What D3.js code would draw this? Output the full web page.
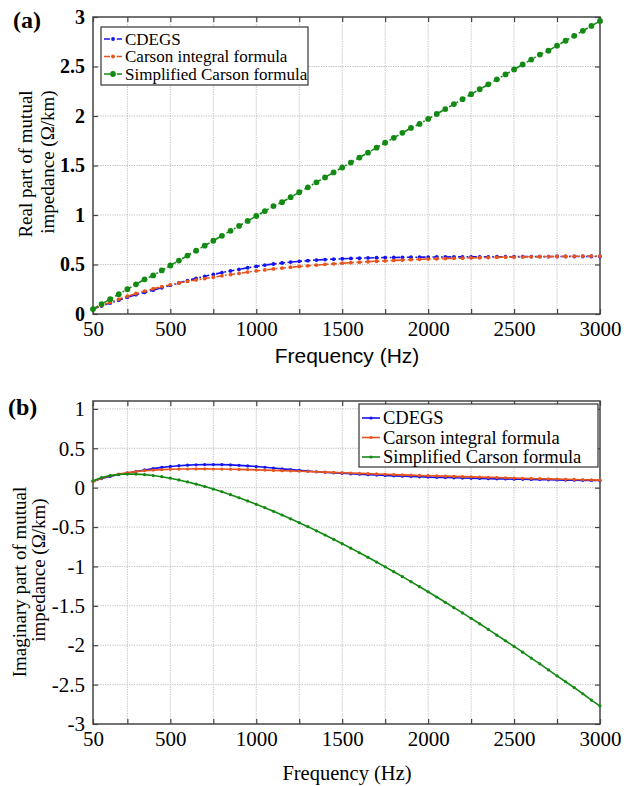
<!DOCTYPE html>
<html>
<head>
<meta charset="utf-8">
<script src="https://cdn.jsdelivr.net/npm/d3@7"></script>
<style>
  body { margin: 0; background: #fff; }
  svg { display: block; }
  text { font-family: "Liberation Serif", "Times New Roman", serif; fill: #000; }
</style>
</head>
<body>
<svg id="chart" width="635" height="786"></svg>
<script>
// frequency points (Hz)
const freq = [50, 100, 150, 200, 250, 300, 350, 400, 450, 500, 550, 600, 650, 700, 750, 800, 850, 900, 950, 1000,
  1050, 1100, 1150, 1200, 1250, 1300, 1350, 1400, 1450, 1500, 1550, 1600, 1650, 1700, 1750, 1800, 1850, 1900, 1950, 2000,
  2050, 2100, 2150, 2200, 2250, 2300, 2350, 2400, 2450, 2500, 2550, 2600, 2650, 2700, 2750, 2800, 2850, 2900, 2950, 3000]

// (a) real part, ohm/km
const realCdegs = [0.050, 0.080, 0.110, 0.140, 0.170, 0.195, 0.218, 0.241, 0.265, 0.290, 0.314, 0.338, 0.360, 0.381, 0.400, 0.418, 0.435, 0.451, 0.467, 0.481,
  0.494, 0.505, 0.515, 0.524, 0.532, 0.539, 0.545, 0.550, 0.554, 0.558, 0.561, 0.564, 0.566, 0.568, 0.570, 0.571, 0.572, 0.573, 0.574, 0.575,
  0.576, 0.576, 0.577, 0.577, 0.578, 0.578, 0.578, 0.579, 0.579, 0.579, 0.580, 0.580, 0.580, 0.580, 0.581, 0.581, 0.581, 0.581, 0.581, 0.581]
const realCarson = [0.050, 0.085, 0.118, 0.150, 0.180, 0.207, 0.232, 0.255, 0.276, 0.295, 0.313, 0.329, 0.344, 0.358, 0.371, 0.386, 0.398, 0.410, 0.423, 0.435,
  0.445, 0.455, 0.464, 0.472, 0.480, 0.487, 0.494, 0.501, 0.507, 0.513, 0.518, 0.523, 0.528, 0.533, 0.537, 0.541, 0.545, 0.549, 0.552, 0.555,
  0.558, 0.560, 0.562, 0.564, 0.566, 0.568, 0.570, 0.572, 0.574, 0.575, 0.577, 0.578, 0.579, 0.580, 0.581, 0.582, 0.583, 0.584, 0.585, 0.585]
const realSimple = [0.05, 0.10, 0.15, 0.20, 0.25, 0.30, 0.35, 0.39, 0.44, 0.49, 0.54, 0.59, 0.64, 0.69, 0.74, 0.79, 0.84, 0.89, 0.94, 0.99,
  1.04, 1.09, 1.13, 1.18, 1.23, 1.28, 1.33, 1.38, 1.43, 1.48, 1.53, 1.58, 1.63, 1.68, 1.73, 1.78, 1.83, 1.88, 1.92, 1.97,
  2.02, 2.07, 2.12, 2.17, 2.22, 2.27, 2.32, 2.37, 2.42, 2.47, 2.52, 2.57, 2.62, 2.66, 2.71, 2.76, 2.81, 2.86, 2.91, 2.96]

// (b) imaginary part, ohm/km
const imagCdegs = [0.077, 0.115, 0.143, 0.166, 0.186, 0.206, 0.225, 0.242, 0.257, 0.269, 0.279, 0.286, 0.290, 0.293, 0.294, 0.292, 0.289, 0.283, 0.276, 0.268,
  0.259, 0.249, 0.239, 0.229, 0.219, 0.210, 0.202, 0.195, 0.188, 0.182, 0.176, 0.170, 0.165, 0.160, 0.155, 0.150, 0.146, 0.142, 0.138, 0.134,
  0.131, 0.128, 0.125, 0.122, 0.119, 0.117, 0.114, 0.112, 0.110, 0.108, 0.106, 0.104, 0.102, 0.100, 0.098, 0.096, 0.095, 0.093, 0.092, 0.090]
const imagCarson = [0.077, 0.120, 0.150, 0.172, 0.190, 0.204, 0.215, 0.223, 0.229, 0.233, 0.236, 0.237, 0.238, 0.238, 0.237, 0.236, 0.234, 0.232, 0.229, 0.226,
  0.223, 0.219, 0.216, 0.212, 0.208, 0.205, 0.201, 0.197, 0.194, 0.190, 0.186, 0.182, 0.178, 0.174, 0.170, 0.166, 0.162, 0.159, 0.155, 0.152,
  0.149, 0.146, 0.143, 0.140, 0.137, 0.134, 0.131, 0.128, 0.125, 0.122, 0.119, 0.117, 0.114, 0.111, 0.109, 0.106, 0.104, 0.101, 0.099, 0.096]
const imagSimple = [0.087, 0.129, 0.153, 0.167, 0.173, 0.172, 0.165, 0.154, 0.139, 0.120, 0.098, 0.073, 0.045, 0.015, -0.018, -0.052, -0.089, -0.128, -0.168, -0.211,
  -0.254, -0.300, -0.347, -0.395, -0.445, -0.495, -0.548, -0.601, -0.656, -0.711, -0.768, -0.826, -0.884, -0.944, -1.005, -1.067, -1.130, -1.193, -1.257, -1.321,
  -1.388, -1.455, -1.523, -1.590, -1.659, -1.728, -1.799, -1.872, -1.943, -2.015, -2.088, -2.163, -2.236, -2.313, -2.388, -2.464, -2.538, -2.616, -2.696, -2.773]

const seriesNames = ['CDEGS', 'Carson integral formula', 'Simplified Carson formula']
const seriesColors = ['#1414f0', '#e8541c', '#138a13']

const xTicks = [50, 250, 500, 750, 1000, 1250, 1500, 1750, 2000, 2250, 2500, 2750, 3000]
const realTicks = [0, 0.5, 1, 1.5, 2, 2.5, 3]
const imagTicks = [-3, -2.5, -2, -1.5, -1, -0.5, 0, 0.5, 1]

const SERIF = '"Liberation Serif", "Times New Roman", serif'
const SANS = '"Liberation Sans", Arial, sans-serif'

const svg = d3.select('#chart')

function drawPanel (opts) {
  const g = svg.append('g')
  const x = d3.scaleLinear().domain([50, 3000]).range([93, 600])
  const y = d3.scaleLinear().domain(opts.yDomain).range([opts.bottom, opts.top])
  const xLab = d => (d === 50 || d % 500 === 0) ? String(d) : ''

  // dotted grid
  g.selectAll('.vgrid').data(xTicks.filter(d => d > 50 && d < 3000)).enter()
    .append('line')
    .attr('x1', d => x(d)).attr('x2', d => x(d))
    .attr('y1', opts.top).attr('y2', opts.bottom)
    .attr('stroke', '#b5b5b5').attr('stroke-width', 0.9).attr('stroke-dasharray', '1.2,1.2')
  g.selectAll('.hgrid').data(opts.yTicks.filter(d => d > opts.yDomain[0] && d < opts.yDomain[1])).enter()
    .append('line')
    .attr('x1', 93).attr('x2', 600)
    .attr('y1', d => y(d)).attr('y2', d => y(d))
    .attr('stroke', '#b5b5b5').attr('stroke-width', 0.9).attr('stroke-dasharray', '1.2,1.2')

  // axes with inward ticks
  const xa = g.append('g').attr('transform', `translate(0,${opts.bottom})`)
    .call(d3.axisBottom(x).tickValues(xTicks).tickFormat(xLab).tickSizeInner(-5).tickSizeOuter(0).tickPadding(6))
  xa.selectAll('text').style('font-size', '21px').style('font-family', SERIF).attr('dy', '0.75em')
  g.append('g').attr('transform', `translate(0,${opts.top})`)
    .call(d3.axisTop(x).tickValues(xTicks).tickFormat('').tickSizeInner(-5).tickSizeOuter(0))
  const ya = g.append('g').attr('transform', 'translate(93,0)')
    .call(d3.axisLeft(y).tickValues(opts.yTicks).tickFormat(d => String(d)).tickSizeInner(-5).tickSizeOuter(0).tickPadding(8))
  ya.selectAll('text')
    .style('font-size', opts.boldY ? '20px' : '21px')
    .style('font-family', SERIF)
    .style('font-weight', opts.boldY ? 'bold' : 'normal')
  g.append('g').attr('transform', 'translate(600,0)')
    .call(d3.axisRight(y).tickValues(opts.yTicks).tickFormat('').tickSizeInner(-5).tickSizeOuter(0))
  g.selectAll('.domain').remove()
  g.selectAll('.tick line').attr('stroke', '#444').attr('stroke-width', 1.2)

  // frame
  g.append('rect')
    .attr('x', 93).attr('y', opts.top)
    .attr('width', 507).attr('height', opts.bottom - opts.top)
    .attr('fill', 'none').attr('stroke', '#444').attr('stroke-width', 1.5)

  // series
  const line = d3.line().x(d => x(d[0])).y(d => y(d[1]))
  opts.series.forEach((vals, i) => {
    const pts = freq.map((f, k) => [f, vals[k]])
    g.append('path').datum(pts)
      .attr('d', line)
      .attr('fill', 'none')
      .attr('stroke', seriesColors[i])
      .attr('stroke-width', opts.lineWidth)
      .attr('stroke-dasharray', opts.dash)
    g.selectAll(`.m${i}`).data(pts).enter()
      .append('circle')
      .attr('cx', d => x(d[0])).attr('cy', d => y(d[1]))
      .attr('r', opts.markerR[i])
      .attr('fill', seriesColors[i])
  })

  // legend
  const lg = g.append('g').attr('transform', `translate(${opts.legend.x},${opts.legend.y})`)
  lg.append('rect')
    .attr('width', opts.legend.w).attr('height', opts.legend.h)
    .attr('fill', '#fff').attr('stroke', '#333').attr('stroke-width', 1.2)
  seriesNames.forEach((name, i) => {
    const cy = opts.legend.row0 + i * opts.legend.step
    lg.append('line')
      .attr('x1', 3).attr('x2', 21).attr('y1', cy).attr('y2', cy)
      .attr('stroke', seriesColors[i]).attr('stroke-width', opts.lineWidth)
      .attr('stroke-dasharray', opts.dash)
    lg.append('circle').attr('cx', 12).attr('cy', cy)
      .attr('r', opts.markerR[i]).attr('fill', seriesColors[i])
    lg.append('text')
      .attr('x', 24).attr('y', cy).attr('dy', '0.33em')
      .style('font-size', opts.legend.font + 'px')
      .text(name)
  })

  // axis titles
  g.append('text')
    .attr('x', 347).attr('y', opts.xTitle.y)
    .attr('text-anchor', 'middle')
    .style('font-size', opts.xTitle.size + 'px')
    .style('font-family', opts.xTitle.font)
    .text('Frequency (Hz)')
  opts.yTitle.forEach((t, i) => {
    g.append('text')
      .attr('transform', `translate(${t.x},${t.mid}) rotate(-90)`)
      .attr('text-anchor', 'middle')
      .style('font-size', '19px')
      .text(t.text)
  })

  g.append('text')
    .attr('x', opts.tag.x).attr('y', opts.tag.y)
    .style('font-size', '24px').style('font-weight', 'bold')
    .text(opts.tag.text)
}

drawPanel({
  top: 17, bottom: 314, yDomain: [0, 3], yTicks: realTicks, boldY: true,
  series: [realCdegs, realCarson, realSimple],
  lineWidth: 1.6, dash: '6,2.5,1.8,2.5', markerR: [1.9, 1.9, 2.9],
  legend: { x: 101, y: 27, w: 207, h: 58, row0: 12, step: 17.5, font: 17 },
  xTitle: { y: 363, size: 21, font: SANS },
  yTitle: [
    { text: 'Real part of mutual', x: 32, mid: 164 },
    { text: 'impedance (\u03a9/km)', x: 54, mid: 162 }
  ],
  tag: { x: 13, y: 28, text: '(a)' }
})

drawPanel({
  top: 401, bottom: 724, yDomain: [-3, 1.1], yTicks: imagTicks, boldY: false,
  series: [imagCdegs, imagCarson, imagSimple],
  lineWidth: 1.6, dash: null, markerR: [1.6, 1.6, 1.6],
  legend: { x: 359, y: 404, w: 239, h: 63, row0: 14, step: 19.5, font: 18.5 },
  xTitle: { y: 780, size: 20.5, font: SERIF },
  yTitle: [
    { text: 'Imaginary part of mutual', x: 26, mid: 582 },
    { text: 'impedance (\u03a9/km)', x: 45, mid: 570 }
  ],
  tag: { x: 8, y: 415, text: '(b)' }
})
</script>
</body>
</html>
